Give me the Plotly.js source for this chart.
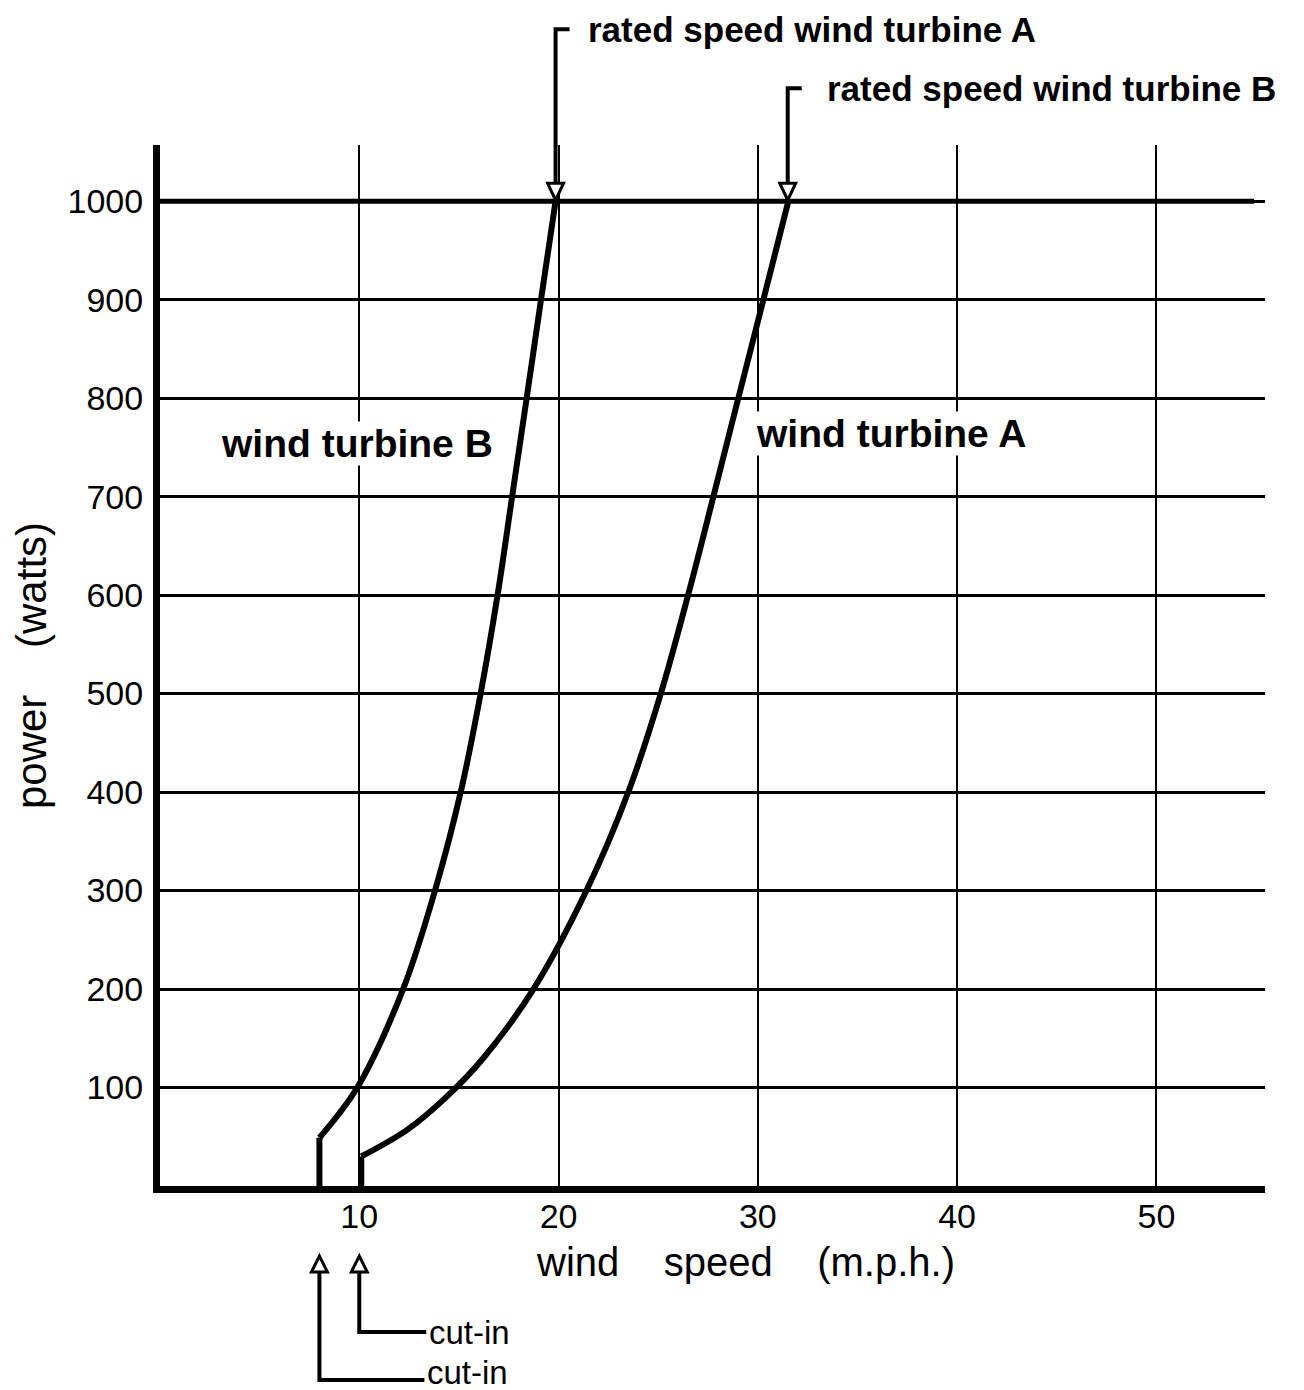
<!DOCTYPE html>
<html><head><meta charset="utf-8">
<script src="https://cdn.plot.ly/plotly-3.0.1.min.js"></script>
<style>html,body{margin:0;padding:0;background:#fff}</style>
</head><body><div id="chart" style="width:1304px;height:1390px"></div>
<script>
// ---- data ----
const turbineB_speed = [8, 8, 9.9, 12.2, 13.8, 15.09, 16.09, 16.94, 17.67, 18.40, 19.12, 19.85];
const turbineB_power = [0, 49, 100, 200, 300, 400, 500, 600, 700, 800, 900, 1000];
const turbineA_speed = [10.1, 10.1, 12.4, 14.35, 16.23, 18.74, 21.4, 23.5, 25.13, 26.5, 27.77, 29.02, 30.28, 31.53];
const turbineA_power = [0, 30, 57, 90, 130, 200, 300, 400, 500, 600, 700, 800, 900, 1000];
const ratedLine_speed = [0, 54.9];
const ratedLine_power = [1000, 1000];
const cutInSpeedLow = 8;     // longer "cut-in" arrow
const cutInSpeedHigh = 10;   // shorter "cut-in" arrow
const ratedSpeedA = 19.85;   // "rated speed wind turbine A"
const ratedSpeedB = 31.5;    // "rated speed wind turbine B"
const ratedPower = 1000;
const xTickVals = [10, 20, 30, 40, 50];
const xTickText = ['10', '20', '30', '40', '50'];
const yTickVals = [100, 200, 300, 400, 500, 600, 700, 800, 900, 1000];
const yTickText = ['100', '200', '300', '400', '500', '600', '700', '800', '900', '1000'];
const labelTurbineB = {text: 'wind turbine B', x: 9.9, y: 754};
const labelTurbineA = {text: 'wind turbine A', x: 36.7, y: 764};

const xRange = [0, 55.45];
const yRange = [0, 1057];
const yPaper = v => (v - yRange[0]) / (yRange[1] - yRange[0]);

const black = '#000';
const curveW = 6;
const fam = 'Liberation Sans, Arial, sans-serif';

const traces = [
  {x: turbineB_speed.slice(0, 2), y: turbineB_power.slice(0, 2), mode: 'lines',
   line: {color: black, width: curveW}, hoverinfo: 'skip'},
  {x: turbineB_speed.slice(1), y: turbineB_power.slice(1), mode: 'lines', name: 'wind turbine B',
   line: {color: black, width: curveW, shape: 'spline', smoothing: 1}},
  {x: turbineA_speed.slice(0, 2), y: turbineA_power.slice(0, 2), mode: 'lines',
   line: {color: black, width: curveW}, hoverinfo: 'skip'},
  {x: turbineA_speed.slice(1), y: turbineA_power.slice(1), mode: 'lines', name: 'wind turbine A',
   line: {color: black, width: curveW, shape: 'spline', smoothing: 1}},
  {x: ratedLine_speed, y: ratedLine_power, mode: 'lines', name: 'rated power',
   line: {color: black, width: 5}}
];

const arrowLine = {color: black, width: 4};
function ratedArrow(xv, topOffset, leg) {
  return [
    {type: 'path', xref: 'x', yref: 'paper', xsizemode: 'pixel', ysizemode: 'pixel',
     xanchor: xv, yanchor: yPaper(ratedPower),
     path: `M 0 17 L 0 ${topOffset} L ${leg} ${topOffset}`, line: arrowLine},
    {type: 'path', xref: 'x', yref: 'paper', xsizemode: 'pixel', ysizemode: 'pixel',
     xanchor: xv, yanchor: yPaper(ratedPower),
     path: 'M -8 18 L 8 18 L 0 1 Z', line: {color: black, width: 3}, fillcolor: '#fff'}
  ];
}
function cutInArrow(xv, bottomOffset, leg) {
  return [
    {type: 'path', xref: 'x', yref: 'paper', xsizemode: 'pixel', ysizemode: 'pixel',
     xanchor: xv, yanchor: 0,
     path: `M 0 -86 L 0 ${bottomOffset} L ${leg} ${bottomOffset}`, line: arrowLine},
    {type: 'path', xref: 'x', yref: 'paper', xsizemode: 'pixel', ysizemode: 'pixel',
     xanchor: xv, yanchor: 0,
     path: 'M -8 -86 L 8 -86 L 0 -70 Z', line: {color: black, width: 3}, fillcolor: '#fff'}
  ];
}

const shapes = [
  ...ratedArrow(ratedSpeedA, 172, 14),
  ...ratedArrow(ratedSpeedB, 113, 14),
  ...cutInArrow(cutInSpeedLow, -194, 105),
  ...cutInArrow(cutInSpeedHigh, -146, 67)
];

const boldFont = {family: fam, size: 39, color: black, weight: 'bold'};
const ratedFont = {family: fam, size: 35, color: black, weight: 'bold'};
const tickFont = {family: fam, size: 34, color: black};
const cutFont = {family: fam, size: 33, color: black};
const gap = '\u00a0\u00a0\u00a0\u00a0';

const annotations = [
  {xref: 'x', yref: 'y', x: labelTurbineB.x, y: labelTurbineB.y, text: '<b>' + labelTurbineB.text + '</b>',
   showarrow: false, font: boldFont, bgcolor: '#fff', borderpad: 0},
  {xref: 'x', yref: 'y', x: labelTurbineA.x, y: labelTurbineA.y, text: '<b>' + labelTurbineA.text + '</b>',
   showarrow: false, font: boldFont, bgcolor: '#fff', borderpad: 0},
  {xref: 'x', yref: 'paper', x: ratedSpeedA, y: yPaper(ratedPower), xshift: 30, yshift: 172,
   xanchor: 'left', yanchor: 'middle', text: '<b>rated speed wind turbine A</b>', showarrow: false, font: ratedFont},
  {xref: 'x', yref: 'paper', x: ratedSpeedB, y: yPaper(ratedPower), xshift: 37, yshift: 113,
   xanchor: 'left', yanchor: 'middle', text: '<b>rated speed wind turbine B</b>', showarrow: false, font: ratedFont},
  {xref: 'x', yref: 'paper', x: cutInSpeedHigh, y: 0, xshift: 68, yshift: -146,
   xanchor: 'left', yanchor: 'middle', text: 'cut-in', showarrow: false, font: cutFont},
  {xref: 'x', yref: 'paper', x: cutInSpeedLow, y: 0, xshift: 106, yshift: -186,
   xanchor: 'left', yanchor: 'middle', text: 'cut-in', showarrow: false, font: cutFont},
  {xref: 'paper', yref: 'paper', x: 0.53, y: 0, yshift: -76, xanchor: 'center', yanchor: 'middle',
   text: 'wind' + gap + 'speed' + gap + '(m.p.h.)', showarrow: false,
   font: {family: fam, size: 40, color: black}}
];

const layout = {
  width: 1304, height: 1390,
  margin: {l: 160, r: 39, t: 145, b: 204, pad: 0},
  paper_bgcolor: '#fff', plot_bgcolor: '#fff',
  showlegend: false,
  xaxis: {
    range: xRange, tickvals: xTickVals, ticktext: xTickText,
    showgrid: true, gridcolor: black, gridwidth: 2,
    showline: true, linecolor: black, linewidth: 7,
    zeroline: false, ticks: '', ticklabelstandoff: -6,
    tickfont: tickFont, fixedrange: true
  },
  yaxis: {
    range: yRange, tickvals: yTickVals, ticktext: yTickText,
    showgrid: true, gridcolor: black, gridwidth: 3,
    showline: true, linecolor: black, linewidth: 7,
    zeroline: false, ticks: '', ticklabelstandoff: 3,
    tickfont: tickFont, fixedrange: true,
    title: {text: 'power' + gap + '(watts)', font: {family: fam, size: 42, color: black}, standoff: 10}
  },
  shapes: shapes,
  annotations: annotations
};

Plotly.newPlot('chart', traces, layout, {displayModeBar: false, staticPlot: true});
</script>
</body></html>
